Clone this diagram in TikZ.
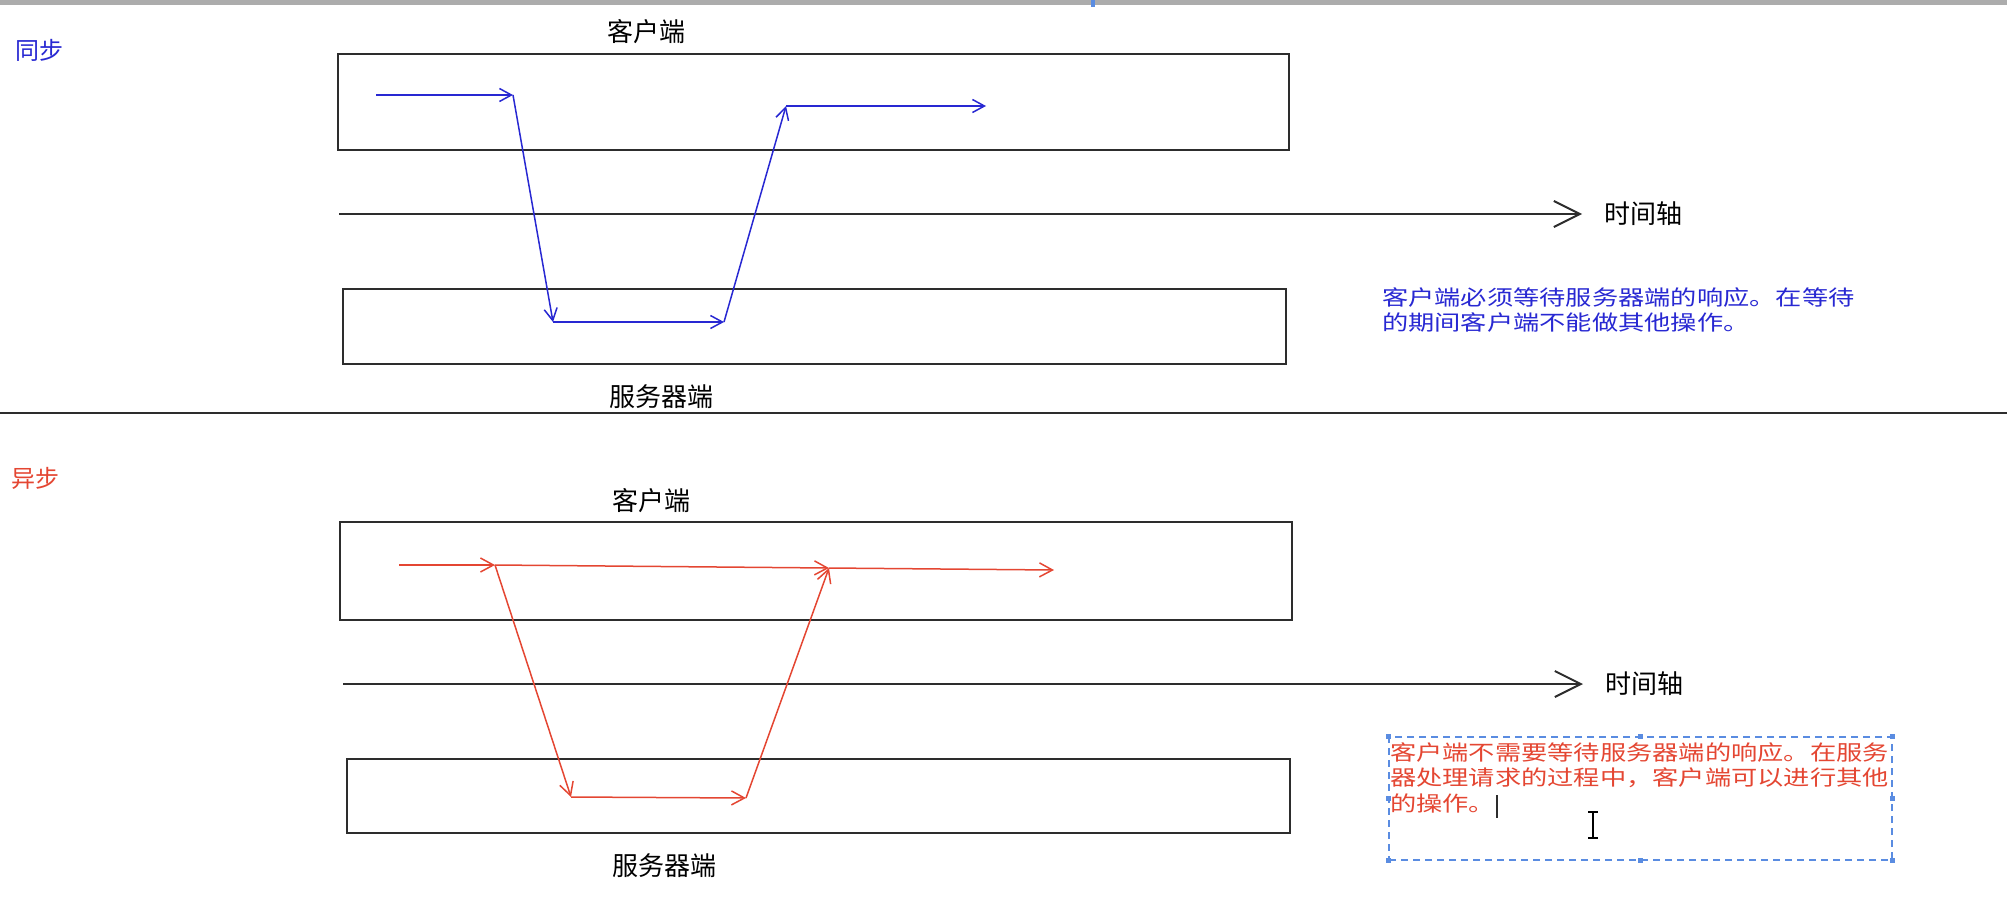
\documentclass[tikz,border=0pt]{standalone}
\usepackage{fontspec}
\setmainfont{Noto Sans CJK SC}
\newfontfamily\notefont[FakeStretch=1.25]{Noto Sans CJK SC}
\usepackage{tikz}
\usetikzlibrary{arrows.meta,positioning}
\definecolor{syncblue}{RGB}{40,40,210}
\definecolor{asyncred}{RGB}{228,70,50}
\definecolor{selblue}{RGB}{90,140,225}
\definecolor{linegray}{RGB}{45,45,45}
\tikzset{
    %Define style for client and server lanes
    lane/.style={
           rectangle,
           draw=linegray, line width=2pt,
           inner sep=0pt},
    %Define style for labels
    tag/.style={
           font=\fontsize{26}{28}\selectfont,
           inner sep=0pt},
    synctag/.style={
           tag,
           font=\fontsize{24}{26}\selectfont,
           text=syncblue},
    asynctag/.style={
           tag,
           font=\fontsize{24}{26}\selectfont,
           text=asyncred},
    note/.style={
           font=\notefont\fontsize{21}{25.5}\selectfont,
           align=left,
           anchor=north west,
           inner sep=0pt},
    selbox/.style={
           rectangle,
           draw=selblue, line width=1.5pt,
           dash pattern=on 7pt off 5pt,
           inner sep=0pt},
    handle/.style={
           rectangle,
           fill=selblue,
           minimum size=5pt,
           inner sep=0pt},
    % Define arrow styles
    axisline/.style={
           draw=linegray, line width=2pt,
           -{Straight Barb[length=26pt,width=26pt]}},
    syncmsg/.style={
           color=syncblue, line width=1.5pt,
           -{Straight Barb[length=12pt,width=13pt]}},
    asyncmsg/.style={
           color=asyncred, line width=1.5pt,
           -{Straight Barb[length=13pt,width=14pt]}}
}
\begin{document}
\begin{tikzpicture}[x=1pt,y=-1pt]
\useasboundingbox (0,0) rectangle (2007,908);
\fill[gray!65] (0,0) rectangle (2007,5);
\fill[selblue] (1091,0) rectangle (1095,7);

 %sync part
\node[synctag] (sync) at (40,50) {同步};
\node[lane, minimum width=951pt, minimum height=96pt] (cli1) at (813.5,102) {};
\node[lane, minimum width=943pt, minimum height=75pt] (srv1) at (814.5,326.5) {};
\node[tag] (cli1lbl) at (646,32) {客户端};
\node[tag] (srv1lbl) at (661,397) {服务器端};

\coordinate (t1a) at (339,214);
\coordinate (t1b) at (1582,214);
\draw[axisline] (t1a) -- (t1b);
\node[tag, right=22pt of t1b] (t1lbl) {时间轴};

\coordinate (a1) at (376,95);
\coordinate (a2) at (513,95);
\coordinate (a3) at (553,322);
\coordinate (a4) at (724,322);
\coordinate (a5) at (786,106);
\coordinate (a6) at (986,106);
\path[syncmsg]
    (a1) edge (a2)
    (a2) edge (a3)
    (a3) edge (a4)
    (a4) edge (a5)
    (a5) edge (a6);

\node[note, text=syncblue] (n1) at (1382,287)
    {客户端必须等待服务器端的响应。在等待\\的期间客户端不能做其他操作。};

\coordinate (sepl) at (0,413);
\coordinate (sepr) at (2007,413);
\draw[linegray, line width=2pt] (sepl) -- (sepr);

 %async part
\node[asynctag] (async) at (36,478) {异步};
\node[lane, minimum width=952pt, minimum height=98pt] (cli2) at (816,571) {};
\node[lane, minimum width=943pt, minimum height=74pt] (srv2) at (818.5,796) {};
\node[tag] (cli2lbl) at (651,501) {客户端};
\node[tag] (srv2lbl) at (664,866) {服务器端};

\coordinate (t2a) at (343,684);
\coordinate (t2b) at (1583,684);
\draw[axisline] (t2a) -- (t2b);
\node[tag, right=22pt of t2b] (t2lbl) {时间轴};

\coordinate (b1) at (399,565);
\coordinate (b2) at (495,565);
\coordinate (b3) at (571,797);
\coordinate (b4) at (746,798);
\coordinate (b5) at (829,568);
\coordinate (b6) at (1054,570);
\path[asyncmsg]
    (b1) edge (b2)
    (b2) edge (b5)
    (b2) edge (b3)
    (b3) edge (b4)
    (b4) edge (b5)
    (b5) edge (b6);

\node[selbox, minimum width=503pt, minimum height=123pt] (sel) at (1640.5,798.5) {};
\foreach \a in {north west,north,north east,east,south east,south,south west,west}
    \node[handle] at (sel.\a) {};
\node[note, text=asyncred] (n2) at (1390,742)
    {客户端不需要等待服务器端的响应。在服务\\器处理请求的过程中，客户端可以进行其他\\的操作。};
\draw[linegray, line width=1.5pt] (1497,795) -- (1497,818);
\draw[black, line width=1.5pt] (1588,812) -- (1598,812) (1593,812) -- (1593,838) (1588,838) -- (1598,838);
\end{tikzpicture}
\end{document}
